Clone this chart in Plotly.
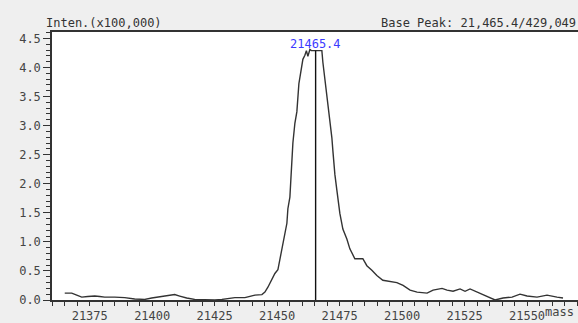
import plotly.graph_objects as go

mass = [21365.0, 21367.8, 21369.8, 21371.8, 21374.2, 21377.0, 21379.0, 21381.0, 21385.0, 21389.0,
        21393.0, 21397.0, 21399.8, 21402.2, 21405.0, 21407.0, 21409.0, 21411.0, 21413.8, 21417.0,
        21421.1, 21425.1, 21427.9, 21430.3, 21433.1, 21437.1, 21439.1, 21441.1, 21443.9, 21445.1,
        21446.3, 21447.9, 21449.1, 21450.3, 21451.1, 21452.3, 21453.1, 21453.9, 21454.3, 21455.1,
        21455.5, 21455.9, 21456.3, 21457.1, 21457.9, 21458.7, 21459.5, 21460.3, 21461.1, 21461.7,
        21462.3, 21463.1, 21463.7, 21467.9, 21468.3, 21469.1, 21469.9, 21470.3, 21471.1, 21471.9,
        21472.3, 21472.7, 21473.1, 21473.9, 21475.1, 21476.3, 21477.9, 21479.1, 21481.1, 21484.3,
        21485.9, 21487.9, 21489.9, 21492.3, 21495.1, 21497.9, 21500.4, 21503.2, 21506.0, 21510.0,
        21512.4, 21516.0, 21518.0, 21520.4, 21523.2, 21525.2, 21527.2, 21529.2, 21532.4, 21535.2,
        21537.2, 21540.4, 21544.0, 21547.2, 21550.0, 21554.0, 21558.0, 21562.0, 21564.4]
inten = [0.118, 0.118, 0.084, 0.05, 0.06, 0.068, 0.06, 0.05, 0.05, 0.04,
         0.017, 0.01, 0.034, 0.05, 0.06, 0.084, 0.093, 0.068, 0.034, 0.01,
         0.0, 0.0, 0.01, 0.025, 0.04, 0.04, 0.068, 0.084, 0.093, 0.135,
         0.22, 0.355, 0.456, 0.52, 0.69, 0.93, 1.10, 1.32, 1.57, 1.77,
         2.08, 2.36, 2.70, 3.04, 3.24, 3.72, 3.97, 4.14, 4.21, 4.29,
         4.19, 4.31, 4.29, 4.29, 4.09, 3.80, 3.58, 3.34, 3.13, 2.79,
         2.57, 2.28, 2.16, 1.89, 1.49, 1.22, 1.05, 0.88, 0.71, 0.71,
         0.59, 0.51, 0.42, 0.34, 0.32, 0.30, 0.25, 0.17, 0.135, 0.118,
         0.17, 0.20, 0.17, 0.15, 0.19, 0.15, 0.19, 0.15, 0.10, 0.034,
         0.0, 0.034, 0.05, 0.10, 0.068, 0.05, 0.084, 0.05, 0.034]

peak_mass = 21465.4
peak_inten = 4.29
x_ticks = [21375, 21400, 21425, 21450, 21475, 21500, 21525, 21550]
y_ticks = [0.0, 0.5, 1.0, 1.5, 2.0, 2.5, 3.0, 3.5, 4.0, 4.5]

MONO = "DejaVu Sans Mono"
TXT = "#444444"

fig = go.Figure()
fig.add_trace(go.Scatter(x=mass, y=inten, mode="lines",
                         line=dict(color="#333333", width=1.4), hoverinfo="skip"))
fig.add_trace(go.Scatter(x=[peak_mass, peak_mass], y=[0, peak_inten], mode="lines",
                         line=dict(color="#111111", width=1.4), hoverinfo="skip"))

fig.update_layout(
    width=578, height=323,
    margin=dict(l=52, r=0, t=32, b=18),
    paper_bgcolor="#efefef", plot_bgcolor="#ffffff",
    showlegend=False,
    font=dict(family=MONO, size=12, color=TXT),
    xaxis=dict(range=[21359.9, 21570.4], tickvals=x_ticks, tickformat="d", ticks="outside", ticklen=4,
               tickcolor="#333", tickwidth=1, showgrid=False, zeroline=False,
               showline=True, linecolor="#333", linewidth=1.5, mirror=True,
               tickfont=dict(family=MONO, size=12, color=TXT),
               minor=dict(dtick=5, tick0=21375, ticks="outside", ticklen=4,
                          tickcolor="#333", showgrid=False)),
    yaxis=dict(range=[0, 4.61], tickvals=y_ticks, tickformat=".1f", ticks="outside",
               ticklen=7, tickcolor="#333", tickwidth=1, showgrid=False, zeroline=False,
               showline=True, linecolor="#333", linewidth=1.5,
               tickfont=dict(family=MONO, size=12, color=TXT),
               minor=dict(dtick=0.1, tick0=0, ticks="outside", ticklen=4,
                          tickcolor="#333", showgrid=False)),
    annotations=[
        dict(text="Inten.(x100,000)", xref="paper", yref="paper", x=0, y=1,
             xanchor="left", yanchor="bottom", xshift=-8, yshift=0, showarrow=False,
             font=dict(family=MONO, size=12, color="#333")),
        dict(text="Base Peak: 21,465.4/429,049", xref="paper", yref="paper", x=1, y=1,
             xanchor="right", yanchor="bottom", xshift=0, yshift=0, showarrow=False,
             font=dict(family=MONO, size=12, color="#333")),
        dict(text=f"{peak_mass}", x=peak_mass, y=peak_inten, xanchor="center",
             yanchor="bottom", showarrow=False, yshift=-2,
             font=dict(family=MONO, size=12, color="#3b3bff")),
        dict(text="mass", xref="paper", yref="paper", x=1, y=0, xanchor="right",
             yanchor="top", xshift=-2, yshift=-3, showarrow=False,
             font=dict(family=MONO, size=12, color=TXT)),
    ],
)

fig.write_html("out.html", config={"displayModeBar": False},
               post_script="document.body.style.margin='0';document.body.style.overflow='hidden';")
